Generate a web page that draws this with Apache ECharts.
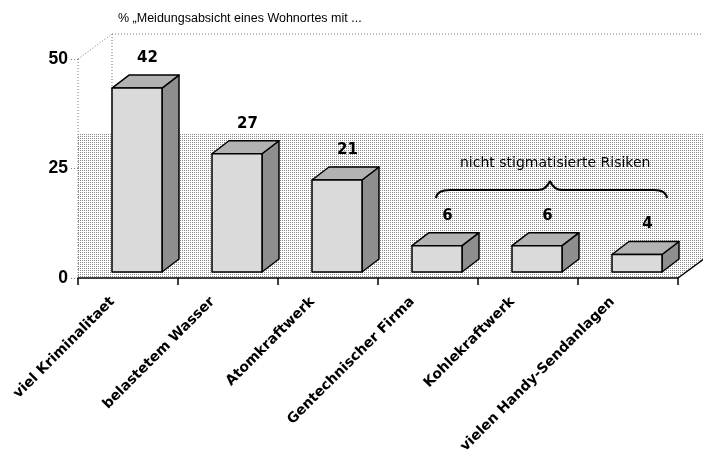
<!DOCTYPE html>
<html>
<head>
<meta charset="utf-8">
<script src="https://cdn.jsdelivr.net/npm/echarts@6/dist/echarts.min.js"></script>
<style>
  html, body { margin: 0; padding: 0; background: #fff; }
  #chart { width: 703px; height: 459px; }
</style>
</head>
<body>
<div id="chart"></div>
<script>
// data
const categories = ['viel Kriminalitaet', 'belastetem Wasser', 'Atomkraftwerk',
  'Gentechnischer Firma', 'Kohlekraftwerk', 'vielen Handy-Sendanlagen'];
const values = [42, 27, 21, 6, 6, 4];
const yMin = 0, yMax = 50, yStep = 25;
const titleText = '% \u201EMeidungsabsicht eines Wohnortes mit ...';
const noteText = 'nicht stigmatisierte Risiken';

const FONT = '"Liberation Sans", Arial, sans-serif';
const WIDE = '"DejaVu Sans", "Liberation Sans", sans-serif';
const WALL_DX = 34, WALL_DY = -25;   // depth of the backdrop
const BAR_DX = 17, BAR_DY = -13;     // depth of a bar
const BAR_LIFT = 6;                  // bars stand a bit behind the front edge

// dotted hatch like the old halftone print
function makeHatch() {
  const c = document.createElement('canvas');
  c.width = 2; c.height = 2;
  const g = c.getContext('2d');
  g.fillStyle = '#fff'; g.fillRect(0, 0, 2, 2);
  g.fillStyle = '#8a8a8a'; g.fillRect(0, 0, 1, 1);
  return c;
}
const hatch = makeHatch();

const chart = echarts.init(document.getElementById('chart'), null, {renderer: 'canvas'});

function renderBackdrop(params, api) {
  const cs = params.coordSys;
  const x0 = cs.x, x1 = cs.x + cs.width;
  const yTop = cs.y, yBot = cs.y + cs.height;
  const hatchY = api.coord([0, 33])[1];
  const dot = {stroke: '#777', lineWidth: 1, lineDash: [1, 2]};
  return {
    type: 'group',
    children: [
      {
        type: 'polygon',
        shape: {points: [[x0, hatchY], [x1 + WALL_DX, hatchY], [x1 + WALL_DX, yBot + WALL_DY], [x1, yBot], [x0, yBot]]},
        style: {fill: {image: hatch, repeat: 'repeat'}}
      },
      {type: 'line', shape: {x1: x0, y1: yTop, x2: x0, y2: yBot}, style: dot},
      {type: 'line', shape: {x1: x0, y1: yTop, x2: x0 + WALL_DX, y2: yTop + WALL_DY}, style: dot},
      {type: 'line', shape: {x1: x0 + WALL_DX, y1: yTop + WALL_DY, x2: x0 + WALL_DX, y2: yBot + WALL_DY}, style: dot},
      {type: 'line', shape: {x1: x0 + WALL_DX, y1: yTop + WALL_DY, x2: x1 + WALL_DX, y2: yTop + WALL_DY}, style: dot},
      {type: 'line', shape: {x1: x1, y1: yBot, x2: x1 + WALL_DX, y2: yBot + WALL_DY}, style: {stroke: '#000', lineWidth: 1.5}}
    ]
  };
}

function renderBar(params, api) {
  const top = api.coord([api.value(0), api.value(1)]);
  const base = api.coord([api.value(0), 0]);
  const band = api.size([1, 0])[0];
  const w = band * 0.5;
  const cx = base[0] + band * 0.09;
  const l = cx - w / 2, r = cx + w / 2;
  const t = top[1] - BAR_LIFT, b = base[1] - BAR_LIFT;
  const edge = {stroke: '#000', lineWidth: 1.5, lineJoin: 'round'};
  return {
    type: 'group',
    children: [
      {type: 'polygon', shape: {points: [[r, t], [r + BAR_DX, t + BAR_DY], [r + BAR_DX, b + BAR_DY], [r, b]]},
        style: Object.assign({fill: '#8e8e8e'}, edge)},
      {type: 'polygon', shape: {points: [[l, t], [l + BAR_DX, t + BAR_DY], [r + BAR_DX, t + BAR_DY], [r, t]]},
        style: Object.assign({fill: '#b2b2b2'}, edge)},
      {type: 'rect', shape: {x: l, y: t, width: w, height: b - t},
        style: Object.assign({fill: '#dadada'}, edge)},
      {type: 'text', x: cx + BAR_DX / 2 + 2, y: t + BAR_DY - 17,
        style: {text: String(api.value(1)), fill: '#000', font: 'bold 15px ' + WIDE, align: 'center', verticalAlign: 'middle'}}
    ]
  };
}

// curly brace over the last three bars
const brace = {stroke: '#000', lineWidth: 2, fill: null};
chart.setOption({
  animation: false,
  backgroundColor: '#fff',
  title: {
    text: titleText, left: 113, top: 7,
    textStyle: {fontFamily: FONT, fontSize: 12.5, fontWeight: 'normal', color: '#000'}
  },
  grid: {left: 78, right: 25, top: 59, bottom: 181},
  xAxis: {
    type: 'category', data: categories, z: 10,
    axisLine: {lineStyle: {color: '#000', width: 1.5}},
    axisTick: {show: true, length: 7, lineStyle: {color: '#000', width: 1.5}},
    axisLabel: {
      rotate: 45, margin: 6, interval: 0, color: '#000',
      fontFamily: WIDE, fontSize: 14, fontWeight: 'bold', padding: [0, 22, 0, 0]
    },
    splitLine: {show: false}
  },
  yAxis: {
    type: 'value', min: yMin, max: yMax, interval: yStep, z: 10,
    axisLine: {show: false},
    axisTick: {show: true, length: 9, lineStyle: {color: '#777', type: [1, 2]}},
    axisLabel: {margin: 10, color: '#000', fontFamily: FONT, fontSize: 17.5, fontWeight: 'bold'},
    splitLine: {show: false}
  },
  graphic: [
    {type: 'text', x: 460, y: 156, z: 20,
      style: {text: noteText, fill: '#000', font: '14px ' + WIDE}},
    {type: 'bezierCurve', z: 20, shape: {x1: 436, y1: 198, cpx1: 437, cpy1: 190, x2: 450, y2: 190}, style: brace},
    {type: 'line', z: 20, shape: {x1: 450, y1: 190, x2: 538, y2: 190}, style: brace},
    {type: 'bezierCurve', z: 20, shape: {x1: 538, y1: 190, cpx1: 546, cpy1: 190, x2: 550, y2: 181}, style: brace},
    {type: 'bezierCurve', z: 20, shape: {x1: 550, y1: 181, cpx1: 554, cpy1: 190, x2: 562, y2: 190}, style: brace},
    {type: 'line', z: 20, shape: {x1: 562, y1: 190, x2: 654, y2: 190}, style: brace},
    {type: 'bezierCurve', z: 20, shape: {x1: 654, y1: 190, cpx1: 666, cpy1: 190, x2: 667, y2: 198}, style: brace}
  ],
  series: [
    {type: 'custom', z: 1, silent: true, data: [0], renderItem: renderBackdrop},
    {type: 'custom', z: 3, silent: true,
      data: values.map((v, i) => [i, v]),
      encode: {x: 0, y: 1},
      renderItem: renderBar}
  ]
});
</script>
</body>
</html>
